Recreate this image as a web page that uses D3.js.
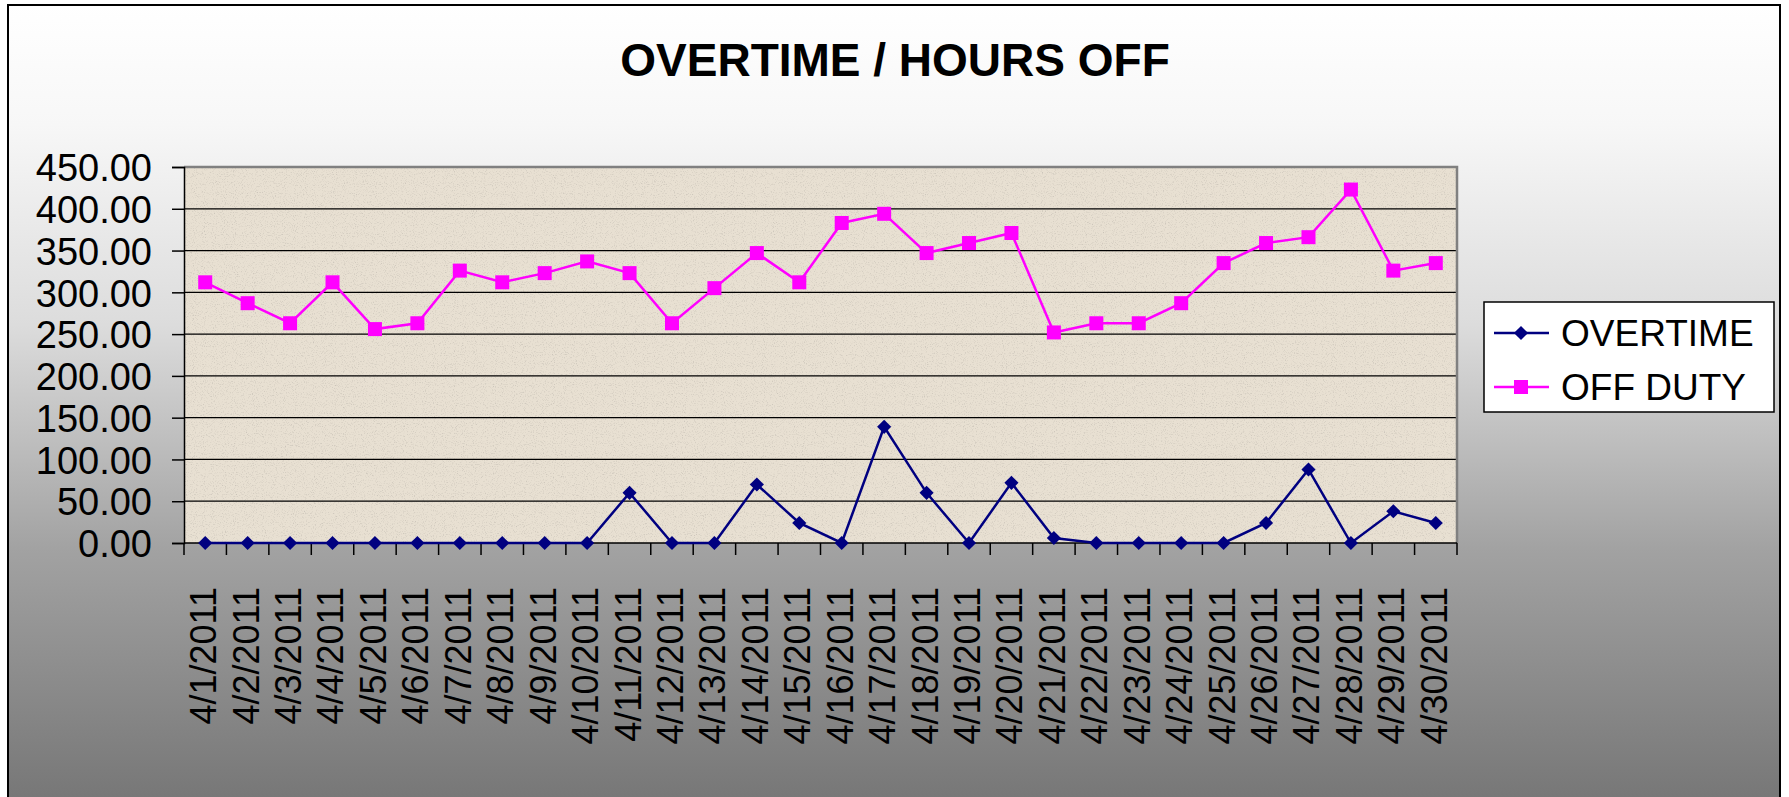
<html>
<head>
    <meta charset="utf-8">
    <title>Overtime / Hours Off</title>
    <script src="https://cdn.jsdelivr.net/npm/d3@7"></script>
    <style>
        body { margin: 0; background: #fff; }
        text { font-family: "Liberation Sans", Arial, sans-serif; fill: #000; }
    </style>
</head>
<body>
<svg id="chart" width="1789" height="797">
    <defs>
        <linearGradient id="bg" x1="0" y1="0" x2="0" y2="1">
            <stop offset="0" stop-color="#ffffff"></stop>
            <stop offset="0.15" stop-color="#f7f7f7"></stop>
            <stop offset="0.4" stop-color="#dcdcdc"></stop>
            <stop offset="0.68" stop-color="#a2a2a2"></stop>
            <stop offset="1" stop-color="#767676"></stop>
        </linearGradient>
        <filter id="grain" x="0" y="0" width="100%" height="100%">
            <feTurbulence type="fractalNoise" baseFrequency="0.9" numOctaves="2" seed="3" result="n"></feTurbulence>
            <feColorMatrix in="n" type="matrix"
                values="0 0 0 0 0.45  0 0 0 0 0.42  0 0 0 0 0.38  0 0 0 -1.6 0.75" result="dots"></feColorMatrix>
            <feComposite in="dots" in2="SourceGraphic" operator="in" result="d2"></feComposite>
            <feMerge>
                <feMergeNode in="SourceGraphic"></feMergeNode>
                <feMergeNode in="d2"></feMergeNode>
            </feMerge>
        </filter>
    </defs>
</svg>
<script>
    // categories
    var dates = ["4/1/2011", "4/2/2011", "4/3/2011", "4/4/2011", "4/5/2011", "4/6/2011",
        "4/7/2011", "4/8/2011", "4/9/2011", "4/10/2011", "4/11/2011", "4/12/2011",
        "4/13/2011", "4/14/2011", "4/15/2011", "4/16/2011", "4/17/2011", "4/18/2011",
        "4/19/2011", "4/20/2011", "4/21/2011", "4/22/2011", "4/23/2011", "4/24/2011",
        "4/25/2011", "4/26/2011", "4/27/2011", "4/28/2011", "4/29/2011", "4/30/2011"];

    // series
    var overtime = [0, 0, 0, 0, 0, 0, 0, 0, 0, 0, 60, 0, 0, 70, 24, 0, 139, 60, 0, 72,
        6, 0, 0, 0, 0, 24, 88, 0, 38, 24];
    var offDuty = [312, 287, 263, 312, 256, 263, 326, 312, 323, 337, 323, 263, 305, 347, 312,
        383, 394, 347, 359, 371, 252, 263, 263, 287, 335, 359, 366, 423, 326, 335];

    // y axis ticks
    var yTicks = [0, 50, 100, 150, 200, 250, 300, 350, 400, 450];

    var seriesNames = ["OVERTIME", "OFF DUTY"];

    var svg = d3.select("#chart");

    // chart area frame
    svg.append("rect")
        .attr("x", 8).attr("y", 5)
        .attr("width", 1772).attr("height", 800)
        .style("fill", "url(#bg)")
        .style("stroke", "#000")
        .style("stroke-width", 2);

    svg.append("text")
        .attr("x", 895)
        .attr("y", 76)
        .attr("text-anchor", "middle")
        .style("font-size", "46px")
        .style("font-weight", "bold")
        .text("OVERTIME / HOURS OFF");

    var plotL = 184, plotR = 1457, plotT = 167, plotB = 543;

    var x = d3.scaleBand().domain(dates).range([plotL, plotR]).padding(0);
    var y = d3.scaleLinear().domain([0, 450]).range([plotB, plotT]);

    // plot area
    svg.append("rect")
        .attr("x", plotL).attr("y", plotT)
        .attr("width", plotR - plotL).attr("height", plotB - plotT)
        .style("fill", "#e8e0d2")
        .attr("filter", "url(#grain)");

    // gridlines
    svg.append("g").selectAll("line")
        .data(yTicks.filter(function(d) { return d > 0 && d < 450; }))
        .enter().append("line")
        .attr("x1", plotL).attr("x2", plotR)
        .attr("y1", function(d) { return y(d); })
        .attr("y2", function(d) { return y(d); })
        .style("stroke", "#000")
        .style("stroke-width", 1.3);

    // plot border top/right
    svg.append("path")
        .attr("d", "M" + plotL + "," + plotT + "H" + plotR + "V" + plotB)
        .style("fill", "none")
        .style("stroke", "#808080")
        .style("stroke-width", 2.5);

    // y axis
    var yAxis = svg.append("g")
        .attr("transform", "translate(" + plotL + ",0)")
        .call(d3.axisLeft(y).tickValues(yTicks).tickFormat(d3.format(".2f")).tickSize(12).tickPadding(20));
    yAxis.select(".domain").style("stroke", "#000").style("stroke-width", 1.5);
    yAxis.selectAll(".tick line").style("stroke", "#000").style("stroke-width", 1.5);
    yAxis.selectAll("text")
        .attr("font-family", null)
        .style("font-size", "38px")
        .attr("dy", "0.36em");

    // x axis: ticks between categories
    var xAxis = svg.append("g").attr("transform", "translate(0," + plotB + ")");
    xAxis.append("line")
        .attr("x1", plotL).attr("x2", plotR)
        .style("stroke", "#000").style("stroke-width", 1.5);
    xAxis.selectAll(".sep")
        .data(dates.concat(["end"]))
        .enter().append("line")
        .attr("class", "sep")
        .attr("x1", function(d, i) { return i < dates.length ? x(d) : plotR; })
        .attr("x2", function(d, i) { return i < dates.length ? x(d) : plotR; })
        .attr("y1", 0).attr("y2", 12)
        .style("stroke", "#000").style("stroke-width", 1.5);
    xAxis.selectAll(".lbl")
        .data(dates)
        .enter().append("text")
        .attr("class", "lbl")
        .attr("transform", function(d) {
            return "translate(" + (x(d) + x.bandwidth() / 2 - 2) + ",44) rotate(-90)";
        })
        .attr("text-anchor", "end")
        .attr("dy", "0.36em")
        .style("font-size", "36px")
        .text(function(d) { return d; });

    var line = d3.line()
        .x(function(d, i) { return x(dates[i]) + x.bandwidth() / 2; })
        .y(function(d) { return y(d); });

    // overtime series
    svg.append("path")
        .datum(overtime)
        .attr("d", line)
        .style("fill", "none")
        .style("stroke", "#000080")
        .style("stroke-width", 2.5);

    var diamond = d3.symbol().type(d3.symbolSquare).size(100);

    svg.append("g").selectAll("path")
        .data(overtime)
        .enter().append("path")
        .attr("d", diamond)
        .attr("transform", function(d, i) {
            return "translate(" + (x(dates[i]) + x.bandwidth() / 2) + "," + y(d) + ") rotate(45)";
        })
        .style("fill", "#000080");

    // off duty series
    svg.append("path")
        .datum(offDuty)
        .attr("d", line)
        .style("fill", "none")
        .style("stroke", "#ff00ff")
        .style("stroke-width", 2.5);

    svg.append("g").selectAll("rect")
        .data(offDuty)
        .enter().append("rect")
        .attr("x", function(d, i) { return x(dates[i]) + x.bandwidth() / 2 - 7; })
        .attr("y", function(d) { return y(d) - 7; })
        .attr("width", 14).attr("height", 14)
        .style("fill", "#ff00ff");

    // legend
    var legend = svg.append("g");
    legend.append("rect")
        .attr("x", 1484).attr("y", 302)
        .attr("width", 290).attr("height", 110)
        .style("fill", "#fff")
        .style("stroke", "#000")
        .style("stroke-width", 1.5);

    var rows = legend.selectAll(".row")
        .data(seriesNames)
        .enter().append("g")
        .attr("class", "row")
        .attr("transform", function(d, i) { return "translate(1494," + (333 + i * 54) + ")"; });

    rows.append("line")
        .attr("x1", 0).attr("x2", 55)
        .style("stroke", function(d, i) { return i === 0 ? "#000080" : "#ff00ff"; })
        .style("stroke-width", 2.5);

    rows.each(function(d, i) {
        var g = d3.select(this);
        if (i === 0) {
            g.append("path")
                .attr("d", diamond)
                .attr("transform", "translate(27,0) rotate(45)")
                .style("fill", "#000080");
        } else {
            g.append("rect")
                .attr("x", 20).attr("y", -7)
                .attr("width", 14).attr("height", 14)
                .style("fill", "#ff00ff");
        }
    });

    rows.append("text")
        .attr("x", 67)
        .attr("dy", "0.36em")
        .style("font-size", "37px")
        .text(function(d) { return d; });
</script>
</body>
</html>
